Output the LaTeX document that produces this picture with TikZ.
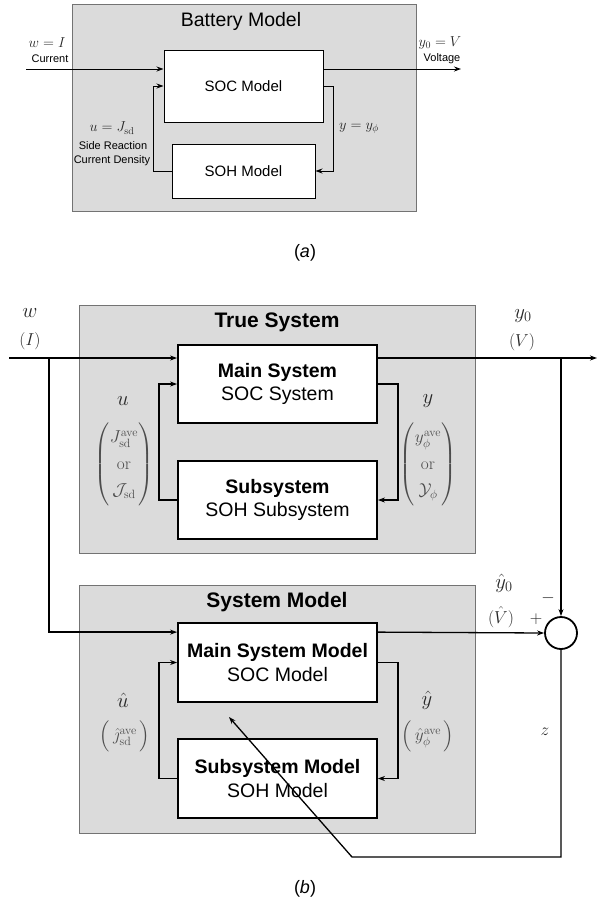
\documentclass[tikz,border=0pt]{standalone}
\usepackage[no-math]{fontspec}
\setmainfont{Liberation Sans}
\usepackage{amsmath}
\usetikzlibrary{arrows.meta,calc}
\newcommand{\fsz}[1]{\fontsize{#1}{1.2\dimexpr #1pt\relax}\selectfont}
\begin{document}
\begin{tikzpicture}[x=1pt,y=-1pt,
  grayback/.style={draw=black!55,fill=black!14,line width=0.8pt,inner sep=0pt},
  blkA/.style={draw,fill=white,line width=1pt,inner sep=0pt,align=center,font=\fsz{15}},
  blkB/.style={draw,fill=white,line width=1.8pt,inner sep=0pt,align=center,font=\fsz{19.5},minimum width=199pt,minimum height=78pt},
  wireA/.style={line width=0.9pt},
  wireB/.style={line width=1.3pt},
  arr/.style={-{Stealth[length=7pt,width=5pt]}},
  lbl/.style={inner sep=0pt,text=black!85},
  mlbl/.style={inner sep=0pt,text=black!70,font=\fsz{17}},
  small/.style={inner sep=0pt,font=\fsz{11}},
  sumc/.style={circle,draw,fill=white,line width=1.8pt,minimum size=32pt,inner sep=0pt}
]
\useasboundingbox (0,0) rectangle (597,903);
% ================= (a)
\node[grayback,minimum width=344pt,minimum height=207pt] (bgA) at (244,107.5) {};
\node[inner sep=0pt,font=\fsz{19.5}] (titA) at (241,21) {Battery Model};
\node[blkA,minimum width=159pt,minimum height=72pt] (socA) at (243.5,86) {SOC Model};
\node[blkA,minimum width=143pt,minimum height=54pt] (sohA) at (243.5,171) {SOH Model};
\coordinate (inA) at (26,69);
\coordinate (outA) at (461,69);
\draw[wireA,arr] (inA) -- (inA -| socA.west);
\draw[wireA,arr] (inA -| socA.east) -- (outA);
\draw[wireA,arr] (socA.east) -- ++(10,0) |- (sohA.east);
\draw[wireA,arr] (sohA.west) -- ++(-18,0) |- (socA.west);
\node[lbl,font=\fsz{14}] (wA) at (47,43) {$w=I$};
\node[small] (curA) at (50,59) {Current};
\node[lbl,font=\fsz{14}] (y0A) at (440,43) {$y_0=V$};
\node[small] (volA) at (442,59) {Voltage};
\node[lbl,font=\fsz{14}] (uA) at (112,128) {$u=J_{\mathrm{sd}}$};
\node[small] (sr1) at (113,146) {Side Reaction};
\node[small] (sr2) at (112,161) {Current Density};
\node[lbl,font=\fsz{14}] (yA) at (359,128) {$y=y_\phi$};
\node[inner sep=0pt,font=\fsz{18}] (capA) at (305,253) {(\textit{a})};
% ================= (b) true system
\node[grayback,minimum width=396pt,minimum height=248pt] (bgT) at (277,429) {};
\node[inner sep=0pt,font=\fsz{21}\bfseries] (titT) at (277,322) {True System};
\node[blkB] (mainT) at (277.5,384) {\textbf{Main System}\\SOC System};
\node[blkB] (subT) at (277.5,500) {\textbf{Subsystem}\\SOH Subsystem};
% ================= (b) system model
\node[grayback,minimum width=396pt,minimum height=248pt] (bgM) at (277,709) {};
\node[inner sep=0pt,font=\fsz{21}\bfseries] (titM) at (277,602) {System Model};
\node[blkB,minimum height=79pt] (mainM) at (277.5,662.5) {\textbf{Main System Model}\\SOC Model};
\node[blkB,minimum height=79pt] (subM) at (277.5,778.5) {\textbf{Subsystem Model}\\SOH Model};
\node[sumc] (sum) at (561,633) {};
% wires
\coordinate (inB) at (9,358);
\coordinate (brI) at (49,358);
\coordinate (outB) at (597,358);
\coordinate (brO) at (561,358);
\coordinate (zc1) at (561,857);
\coordinate (zc2) at (352,857);
\coordinate (ztip) at (229,717);
\draw[wireB,arr] (inB) -- (inB -| mainT.west);
\draw[wireB,arr] (brI) |- ($(mainM.north west)+(0,10)$);
\draw[wireB,arr] (inB -| mainT.east) -- (outB);
\draw[wireB,arr] (brO) -- (sum.north);
\draw[wireB,arr] ($(mainM.north east)+(0,10)$) -- (sum.west);
\draw[wireB,arr] (mainT.east) -- ++(20,0) |- (subT.east);
\draw[wireB,arr] (subT.west) -- ++(-18,0) |- (mainT.west);
\draw[wireB,arr] (mainM.east) -- ++(20,0) |- (subM.east);
\draw[wireB,arr] (subM.west) -- ++(-18,0) |- (mainM.west);
\draw[wireB,arr] (sum.south) -- (zc1) -- (zc2) -- (ztip);
% labels (b)
\node[lbl,font=\fsz{21}] (wB) at (30,313) {$w$};
\node[lbl,font=\fsz{16}] (IB) at (30,341) {$(I)$};
\node[lbl,font=\fsz{21}] (y0B) at (523,316) {$y_0$};
\node[lbl,font=\fsz{16}] (VB) at (522,342) {$(V)$};
\node[lbl,font=\fsz{21}] (uB) at (123,401) {$u$};
\node[mlbl] (uM) at (124,464) {$\renewcommand{\arraystretch}{1.3}\left(\begin{array}{@{}c@{}}J_{\mathrm{sd}}^{\mathrm{ave}}\\ \mathrm{or}\\ \mathcal{J}_{\mathrm{sd}}\end{array}\right)$};
\node[lbl,font=\fsz{21}] (yB) at (428,401) {$y$};
\node[mlbl] (yM) at (428,464) {$\renewcommand{\arraystretch}{1.3}\left(\begin{array}{@{}c@{}}y_\phi^{\mathrm{ave}}\\ \mathrm{or}\\ \mathcal{Y}_\phi\end{array}\right)$};
\node[lbl,font=\fsz{21}] (uhB) at (123,700) {$\hat{u}$};
\node[mlbl] (uhM) at (125,736) {$\left(\rule[-12pt]{0pt}{33pt}\,\hat{\jmath}_{\mathrm{sd}}^{\mathrm{ave}}\,\right)$};
\node[lbl,font=\fsz{21}] (yhB) at (427,700) {$\hat{y}$};
\node[mlbl] (yhM) at (428,736) {$\left(\rule[-12pt]{0pt}{33pt}\,\hat{y}_\phi^{\mathrm{ave}}\,\right)$};
\node[lbl,font=\fsz{21}] (y0h) at (504,583) {$\hat{y}_0$};
\node[lbl,font=\fsz{16}] (Vh) at (501,617) {$(\hat{V})$};
\node[lbl,font=\fsz{16}] (plus) at (536,619) {$+$};
\node[lbl,font=\fsz{16}] (minus) at (548,598) {$-$};
\node[lbl,font=\fsz{18}] (zB) at (545,732) {$z$};
\node[inner sep=0pt,font=\fsz{18}] (capB) at (305,889) {(\textit{b})};
\end{tikzpicture}
\end{document}
